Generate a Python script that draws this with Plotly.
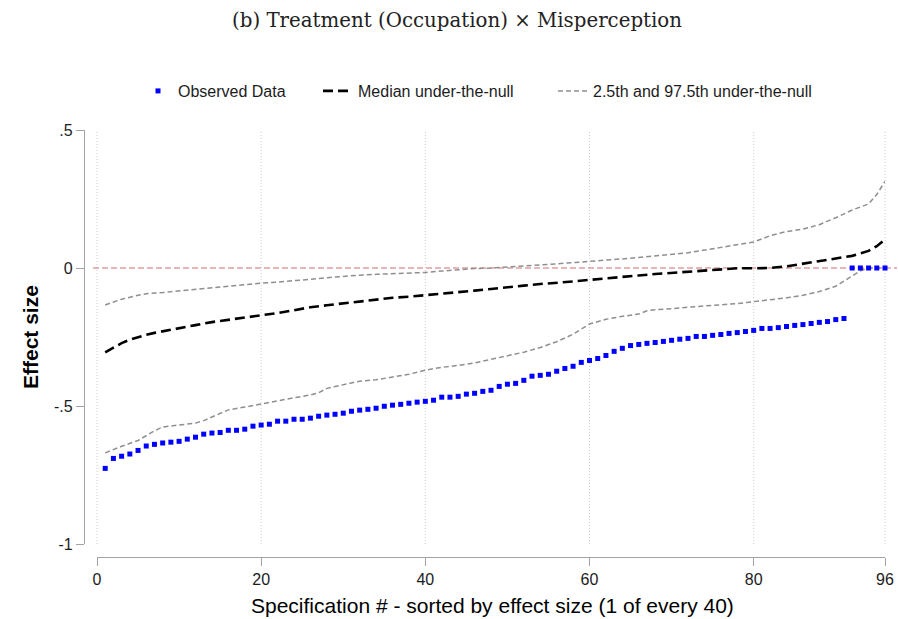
import plotly.graph_objects as go

# ---- data -----------------------------------------------------------------
spec_obs = list(range(1, 97))
observed = [
    -0.726, -0.690, -0.682, -0.674, -0.661, -0.645, -0.639, -0.634, -0.631, -0.628,
    -0.620, -0.613, -0.602, -0.598, -0.596, -0.588, -0.588, -0.584, -0.573, -0.569,
    -0.566, -0.555, -0.555, -0.548, -0.548, -0.544, -0.537, -0.533, -0.530, -0.526,
    -0.519, -0.515, -0.512, -0.508, -0.501, -0.497, -0.494, -0.490, -0.486, -0.483,
    -0.479, -0.468, -0.468, -0.465, -0.457, -0.454, -0.447, -0.443, -0.429, -0.421,
    -0.418, -0.407, -0.392, -0.389, -0.385, -0.374, -0.364, -0.356, -0.342, -0.335,
    -0.328, -0.317, -0.302, -0.291, -0.281, -0.277, -0.273, -0.270, -0.266, -0.262,
    -0.258, -0.255, -0.248, -0.248, -0.244, -0.241, -0.237, -0.234, -0.230, -0.226,
    -0.219, -0.219, -0.216, -0.212, -0.208, -0.205, -0.201, -0.197, -0.194, -0.187,
    -0.183, 0.000, 0.000, 0.000, 0.000, 0.000,
]

median_spec = [1, 2, 3, 4, 5, 6, 7, 8, 10, 12, 14, 16, 18, 20, 22, 24, 26, 28, 30,
               32, 34, 36, 38, 40, 42, 44, 46, 48, 50, 52, 54, 56, 58, 60, 62, 64,
               66, 68, 70, 72, 74, 76, 78, 80, 82, 84, 86, 88, 90, 92, 94, 95, 96]
median = [-0.306, -0.290, -0.272, -0.260, -0.250, -0.242, -0.235, -0.229, -0.218,
          -0.207, -0.196, -0.188, -0.179, -0.171, -0.163, -0.153, -0.142, -0.135,
          -0.128, -0.120, -0.113, -0.108, -0.104, -0.099, -0.092, -0.087, -0.082,
          -0.076, -0.069, -0.064, -0.058, -0.054, -0.049, -0.043, -0.037, -0.031,
          -0.027, -0.022, -0.018, -0.014, -0.010, -0.006, -0.001, -0.001, 0.000,
          0.006, 0.015, 0.024, 0.034, 0.044, 0.062, 0.079, 0.104]

upper_spec = [1, 3, 5, 6, 8, 10, 12, 14, 16, 18, 20, 22, 24, 26, 28, 30, 32, 34, 36,
              38, 40, 42, 44, 46, 48, 50, 52, 54, 56, 58, 60, 62, 64, 66, 68, 70,
              72, 74, 76, 78, 80, 82, 84, 86, 88, 89, 90, 92, 94, 95, 96]
upper = [-0.134, -0.113, -0.099, -0.093, -0.089, -0.083, -0.077, -0.071, -0.065,
         -0.059, -0.055, -0.051, -0.047, -0.041, -0.035, -0.030, -0.026, -0.023,
         -0.021, -0.019, -0.016, -0.011, -0.006, -0.002, 0.000, 0.003, 0.007, 0.011,
         0.015, 0.019, 0.024, 0.029, 0.033, 0.038, 0.043, 0.048, 0.055, 0.065, 0.074,
         0.083, 0.094, 0.117, 0.132, 0.141, 0.157, 0.170, 0.182, 0.210, 0.232, 0.266,
         0.314]

lower_spec = [1, 3, 5, 7, 8, 10, 12, 13, 15, 16, 18, 20, 22, 24, 26, 27, 28, 30, 32,
              34, 36, 38, 40, 42, 44, 46, 48, 50, 52, 54, 56, 58, 59, 60, 62, 64, 66,
              67, 68, 70, 72, 74, 76, 78, 80, 82, 84, 86, 88, 90, 91, 92, 93, 94, 95,
              96]
lower = [-0.670, -0.646, -0.625, -0.590, -0.576, -0.568, -0.562, -0.553, -0.525,
         -0.514, -0.504, -0.492, -0.481, -0.470, -0.460, -0.452, -0.436, -0.422,
         -0.410, -0.405, -0.395, -0.385, -0.370, -0.360, -0.353, -0.344, -0.331,
         -0.318, -0.305, -0.288, -0.267, -0.240, -0.221, -0.203, -0.186, -0.175,
         -0.167, -0.155, -0.151, -0.148, -0.142, -0.138, -0.133, -0.129, -0.122,
         -0.116, -0.108, -0.099, -0.085, -0.066, -0.048, -0.027, -0.010, 0.000,
         0.000, 0.000]

x_ticks = [0, 20, 40, 60, 80, 96]
y_ticks = [-1, -0.5, 0, 0.5]
y_ticktext = ["-1", "-.5", "0", ".5"]
X_RANGE = [0, 96]
Y_RANGE = [-1, 0.5]

# ---- geometry (pixels) ------------------------------------------------------
W, H = 898, 619
ML, MR, MT, MB = 40, 13, 130, 50
paper_w = W - ML - MR
paper_h = H - MT - MB
plot_left, plot_bottom = 97, 544          # where x=0 and y=-1 sit
yaxis_x, xaxis_y = 84, 557                # offset axis lines

x_dom0 = (plot_left - ML) / paper_w
y_dom0 = (MT + paper_h - plot_bottom) / paper_h


def px_x(px):
    return (px - ML) / paper_w


def px_y(py):
    return (MT + paper_h - py) / paper_h


def xdata_to_paper(v):
    return x_dom0 + (v - X_RANGE[0]) / (X_RANGE[1] - X_RANGE[0]) * (1 - x_dom0)


AXIS_GREY = "#a3a3a3"
GRID_GREY = "#cfcfcf"
SANS = "Liberation Sans, Arial, Helvetica, sans-serif"

fig = go.Figure()

ci_style = dict(color="#8f8f8f", width=1.5, dash="5px,3px")
fig.add_trace(go.Scatter(
    x=lower_spec, y=lower, mode="lines", line=ci_style,
    name="2.5th and 97.5th under-the-null", legendgroup="ci",
    showlegend=False, cliponaxis=False, hoverinfo="skip"))
fig.add_trace(go.Scatter(
    x=upper_spec, y=upper, mode="lines", line=ci_style,
    name="2.5th and 97.5th under-the-null", legendgroup="ci",
    legend="legend3", cliponaxis=False))
fig.add_trace(go.Scatter(
    x=median_spec, y=median, mode="lines",
    line=dict(color="black", width=2.6, dash="10px,5px"),
    name="Median under-the-null", legend="legend2", cliponaxis=False))
fig.add_trace(go.Scatter(
    x=spec_obs, y=observed, mode="markers",
    marker=dict(symbol="square", size=5, color="#0000ff", line=dict(width=0)),
    name="Observed Data", legend="legend", cliponaxis=False))

# vertical grid lines (drawn as shapes so the ones on the range ends show too)
for v in x_ticks:
    fig.add_shape(type="line", xref="paper", yref="paper",
                  x0=xdata_to_paper(v), x1=xdata_to_paper(v), y0=y_dom0, y1=1,
                  line=dict(color=GRID_GREY, width=1, dash="1px,2px"), layer="below")

# reference line at zero effect
fig.add_shape(type="line", xref="paper", yref="y",
              x0=px_x(93), x1=px_x(897), y0=0, y1=0,
              line=dict(color="#cf6f6f", width=1, dash="6px,3px"), layer="below")


def legend_at(text_left):
    return dict(orientation="h", xref="container", yref="container",
                x=(text_left - 40) / W, xanchor="left", y=1 - 91 / H, yanchor="middle",
                font=dict(family=SANS, size=16, color="#1c1c1c"),
                bgcolor="rgba(0,0,0,0)", borderwidth=0)


fig.update_layout(
    width=W, height=H,
    margin=dict(l=ML, r=MR, t=MT, b=MB, autoexpand=False),
    paper_bgcolor="white", plot_bgcolor="white",
    font=dict(family=SANS, size=16, color="#1c1c1c"),
    title=dict(text="(b) Treatment (Occupation) × Misperception",
               font=dict(family="DejaVu Serif, Liberation Serif, serif", size=19.8,
                         color="#222222"),
               x=457 / W, xref="container", xanchor="center",
               y=1 - 20 / H, yref="container", yanchor="middle"),
    legend=legend_at(178),
    legend2=legend_at(358),
    legend3=legend_at(593),
    xaxis=dict(
        domain=[x_dom0, 1], range=X_RANGE, automargin=False,
        anchor="free", position=px_y(xaxis_y),
        showline=True, linecolor=AXIS_GREY, linewidth=1.3,
        ticks="outside", ticklen=8, tickwidth=1.3, tickcolor=AXIS_GREY,
        tickvals=x_ticks, tickfont=dict(size=16),
        showgrid=False, zeroline=False),
    yaxis=dict(
        domain=[y_dom0, 1], range=Y_RANGE, automargin=False,
        anchor="free", position=px_x(yaxis_x),
        showline=True, linecolor=AXIS_GREY, linewidth=1.3,
        ticks="outside", ticklen=8, tickwidth=1.3, tickcolor=AXIS_GREY,
        tickvals=y_ticks, ticktext=y_ticktext, tickfont=dict(size=16),
        showgrid=False, zeroline=False),
    annotations=[
        dict(text="<b>Effect size</b>", xref="paper", yref="paper",
             x=px_x(30), y=px_y(337),
             textangle=-90, showarrow=False, xanchor="center", yanchor="middle",
             font=dict(family=SANS, size=21, color="black")),
        dict(text="Specification # - sorted by effect size (1 of every 40)",
             xref="paper", yref="paper",
             x=px_x(492), y=px_y(605),
             showarrow=False, xanchor="center", yanchor="middle",
             font=dict(family=SANS, size=21, color="black")),
    ],
)

fig.write_html("out.html")
